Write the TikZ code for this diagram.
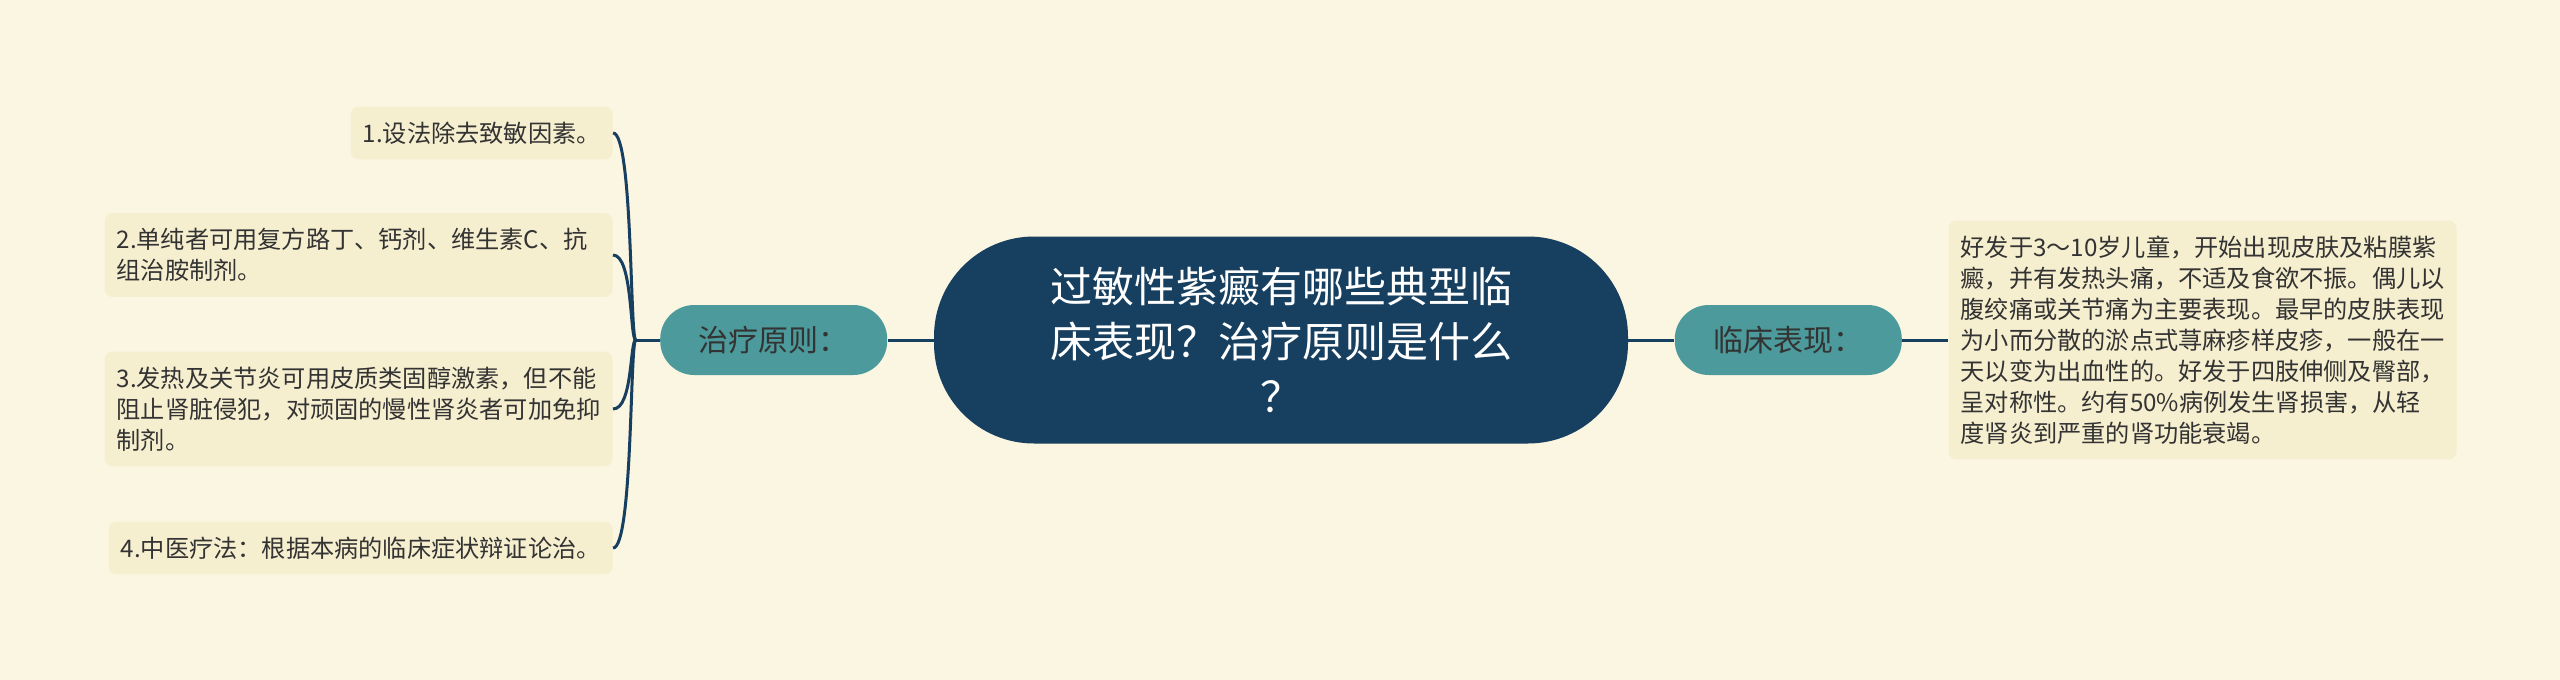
\documentclass[tikz,border=0pt]{standalone}
\usepackage{fontspec}
\setmainfont{Noto Sans CJK SC}
\usepackage{xcolor}
\usepackage{tikz}
\usetikzlibrary{positioning}
\definecolor{bgcream}{HTML}{FBF6E1}
\definecolor{leafcream}{HTML}{F5EECF}
\definecolor{navy}{HTML}{173F5F}
\definecolor{tealbox}{HTML}{4C9A9B}
\definecolor{inkgray}{HTML}{333333}

\begin{document}
\begin{tikzpicture}[x=0.5pt, y=-0.5pt, node distance=23pt,
    root/.style={fill=navy, text=white, rounded corners=50pt, minimum width=347pt, minimum height=103.5pt, align=center, font=\fontsize{21}{27.5}\selectfont},
    branch/.style={fill=tealbox, text=inkgray, rounded corners=17pt, minimum width=113.5pt, minimum height=35pt, font=\fontsize{15}{18}\selectfont},
    leaf/.style={fill=leafcream, text=inkgray, rounded corners=4pt, inner xsep=6pt, inner ysep=7.6pt, align=left, font=\fontsize{12.1}{15.5}\selectfont},
    wideleaf/.style={leaf, text width=242pt},
    link/.style={draw=navy, line width=1.5pt}]
    \fill[bgcream] (0,0) rectangle (2560,680);
    \useasboundingbox (0,0) rectangle (2560,680);

    \node [root] (topic) at (1281,340) {过敏性紫癜有哪些典型临\\床表现？治疗原则是什么\\？};
    \node [branch, left=of topic] (cure) {治疗原则：};
    \node [branch, right=of topic] (sign) {临床表现：};
    \node [wideleaf, right=of sign] (signtext) {好发于3～10岁儿童，开始出现皮肤及粘膜紫\\癜，并有发热头痛，不适及食欲不振。偶儿以\\腹绞痛或关节痛为主要表现。最早的皮肤表现\\为小而分散的淤点式荨麻疹样皮疹，一般在一\\天以变为出血性的。好发于四肢伸侧及臀部，\\呈对称性。约有50\%病例发生肾损害，从轻\\度肾炎到严重的肾功能衰竭。};
    \coordinate [left=12pt of cure] (cj);

    \node [leaf, anchor=east] (cure1) at (613,133) {1.设法除去致敏因素。};
    \node [wideleaf, anchor=east] (cure2) at (613,255) {2.单纯者可用复方路丁、钙剂、维生素C、抗\\组治胺制剂。};
    \node [wideleaf, anchor=east] (cure3) at (613,409) {3.发热及关节炎可用皮质类固醇激素，但不能\\阻止肾脏侵犯，对顽固的慢性肾炎者可加免抑\\制剂。};
    \node [leaf, anchor=east] (cure4) at (613,548) {4.中医疗法：根据本病的临床症状辩证论治。};

    \draw [link] (topic) -- (cure);
    \draw [link] (topic) -- (sign);
    \draw [link] (sign) -- (signtext);
    \draw [link] (cure) -- (cj);
    \foreach \i in {1,...,4}
        \draw [link] (cj) .. controls +(-6,0) and +(20,0) .. (cure\i.east);
\end{tikzpicture}
\end{document}
